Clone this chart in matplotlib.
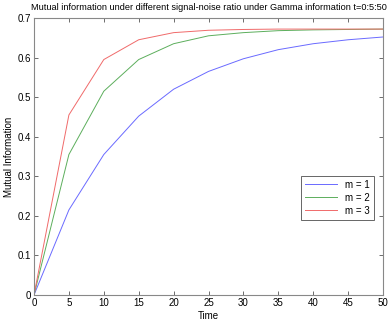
import numpy as np
import matplotlib.pyplot as plt

plt.rcParams['font.family'] = ['Liberation Sans', 'DejaVu Sans']

time = [0, 5, 10, 15, 20, 25, 30, 35, 40, 45, 50]
mi_m1 = [0, 0.215, 0.355, 0.452, 0.52, 0.565, 0.597, 0.62, 0.635, 0.645, 0.652]
mi_m2 = [0, 0.355, 0.515, 0.595, 0.635, 0.655, 0.663, 0.668, 0.670, 0.671, 0.672]
mi_m3 = [0, 0.455, 0.595, 0.645, 0.663, 0.669, 0.671, 0.672, 0.672, 0.672, 0.672]
labels = ['m = 1', 'm = 2', 'm = 3']

fig = plt.figure(figsize=(3.89, 3.26), dpi=100)
ax = fig.add_axes([34/389, 31/326, (383-34)/389, (295-18)/326])

ax.plot(time, mi_m1, color='#6a6aff', lw=0.7, label=labels[0])
ax.plot(time, mi_m2, color='#5cae5c', lw=0.7, label=labels[1])
ax.plot(time, mi_m3, color='#f06a6a', lw=0.7, label=labels[2])

ax.set_xlim(0, 50)
ax.set_ylim(0, 0.7)
ax.set_xticks(np.arange(0, 51, 5))
ax.set_yticks(np.arange(0, 0.71, 0.1))
ax.set_yticklabels(['0', '0.1', '0.2', '0.3', '0.4', '0.5', '0.6', '0.7'])
ax.tick_params(direction='in', top=True, right=True, length=3, width=0.6,
               labelsize=7, color='#555555', pad=2)
for s in ax.spines.values():
    s.set_color('#888888')
    s.set_linewidth(0.8)

ax.set_xlabel('Time', fontsize=7, labelpad=2)
ax.set_ylabel('Mutual Information', fontsize=7, labelpad=3)
ax.set_title('Mutual information under different signal-noise ratio under Gamma information t=0:5:50',
             fontsize=6.6, pad=6)

leg = ax.legend(loc='lower right', bbox_to_anchor=(0.987, 0.255), fontsize=7,
                fancybox=False, framealpha=1, edgecolor='#666666',
                handlelength=3.3, borderpad=0.4, labelspacing=0.3)
leg.get_frame().set_linewidth(0.7)

fig.savefig('out.png', dpi=100)
